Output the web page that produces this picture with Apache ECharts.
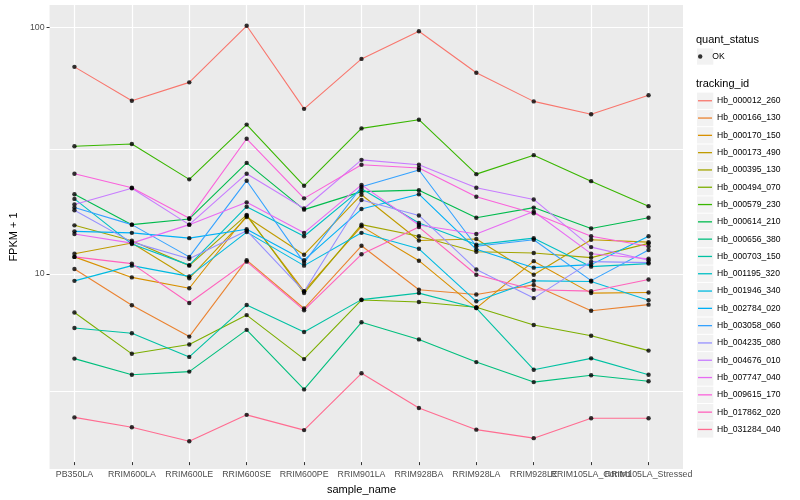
<!DOCTYPE html>
<html><head><meta charset="utf-8">
<script src="https://cdn.jsdelivr.net/npm/echarts@6/dist/echarts.min.js"></script>
<style>html,body{margin:0;padding:0;background:#fff}#c{width:800px;height:500px}</style>
</head><body><div id="c"></div>
<script>
// ---------- data ----------
const categories = ['PB350LA','RRIM600LA','RRIM600LE','RRIM600SE','RRIM600PE','RRIM901LA','RRIM928BA','RRIM928LA','RRIM928LE','RRIM105LA_Control','RRIM105LA_Stressed'];
const trackingIds = ['Hb_000012_260','Hb_000166_130','Hb_000170_150','Hb_000173_490','Hb_000395_130','Hb_000494_070','Hb_000579_230','Hb_000614_210','Hb_000656_380','Hb_000703_150','Hb_001195_320','Hb_001946_340','Hb_002784_020','Hb_003058_060','Hb_004235_080','Hb_004676_010','Hb_007747_040','Hb_009615_170','Hb_017862_020','Hb_031284_040'];
const hb_000012_260 = [68.7, 49.8, 59.3, 101.5, 46.1, 74.1, 96.3, 65.0, 49.5, 43.8, 52.5];
const hb_000166_130 = [10.07, 7.14, 5.30, 10.95, 6.92, 12.56, 8.27, 7.91, 8.66, 6.77, 7.18];
const hb_000170_150 = [11.3, 9.3, 8.39, 16.7, 8.16, 15.1, 10.9, 6.95, 10.85, 8.01, 8.06];
const hb_000173_490 = [11.65, 12.9, 9.22, 16.5, 11.54, 20.4, 13.2, 13.4, 9.54, 13.3, 13.0];
const hb_000395_130 = [15.25, 13.18, 10.4, 16.85, 8.01, 15.35, 13.75, 11.87, 11.73, 11.22, 12.85];
const hb_000494_070 = [6.66, 4.50, 4.92, 6.50, 4.28, 7.50, 7.36, 7.00, 5.92, 5.34, 4.64];
const hb_000579_230 = [32.3, 33.0, 23.6, 39.7, 22.2, 38.3, 41.6, 24.8, 29.7, 23.2, 18.3];
const hb_000614_210 = [20.5, 15.35, 16.2, 27.6, 17.7, 21.0, 21.3, 16.4, 18.05, 14.8, 16.4];
const hb_000656_380 = [4.30, 3.69, 3.80, 5.65, 3.21, 6.07, 5.16, 4.16, 3.44, 3.67, 3.47];
const hb_000703_150 = [5.75, 5.47, 4.37, 7.16, 5.54, 7.53, 8.01, 6.95, 3.87, 4.31, 3.69];
const hb_001195_320 = [19.6, 12.76, 10.45, 18.2, 13.75, 21.6, 15.6, 12.7, 13.5, 10.3, 10.6];
const hb_001946_340 = [9.0, 10.4, 9.39, 14.3, 10.4, 14.2, 12.2, 7.41, 9.0, 8.94, 7.48];
const hb_002784_020 = [14.4, 14.2, 13.5, 14.7, 10.95, 17.8, 20.5, 12.14, 10.2, 10.5, 13.75];
const hb_003058_060 = [18.05, 15.35, 11.3, 23.3, 10.7, 22.0, 25.8, 12.5, 13.3, 9.02, 12.06];
const hb_004235_080 = [17.6, 13.0, 11.1, 14.5, 8.14, 19.4, 16.75, 10.03, 7.64, 10.8, 10.7];
const hb_004676_010 = [18.6, 21.7, 15.35, 24.9, 17.9, 28.4, 27.1, 21.8, 19.5, 12.4, 10.95];
const hb_007747_040 = [14.05, 12.88, 15.35, 18.97, 14.2, 22.4, 15.3, 14.05, 17.4, 11.65, 11.1];
const hb_009615_170 = [24.9, 21.8, 16.3, 34.7, 19.7, 27.1, 26.3, 20.0, 17.1, 13.75, 12.5];
const hb_017862_020 = [11.3, 10.6, 7.29, 10.8, 6.81, 11.58, 15.0, 9.54, 8.27, 8.16, 9.11];
const hb_031284_040 = [2.46, 2.24, 1.96, 2.52, 2.18, 3.74, 2.69, 2.19, 2.02, 2.44, 2.44];
const yTickValues = [10, 100];
const yTickLabels = ['10', '100'];
const quantStatus = ['OK'];

// ---------- style ----------
const palette = ['#F8766D','#EA8331','#D89000','#C09B00','#A3A500','#7CAE00','#39B600','#00BB4E','#00BF7D','#00C1A3','#00BFC4','#00BAE0','#00B0F6','#35A2FF','#9590FF','#C77CFF','#E76BF3','#FA62DB','#FF62BC','#FF6C91'];
const seriesValues = [hb_000012_260, hb_000166_130, hb_000170_150, hb_000173_490, hb_000395_130, hb_000494_070, hb_000579_230, hb_000614_210, hb_000656_380, hb_000703_150, hb_001195_320, hb_001946_340, hb_002784_020, hb_003058_060, hb_004235_080, hb_004676_010, hb_007747_040, hb_009615_170, hb_017862_020, hb_031284_040];

const W = 800, H = 500;
const PANEL = {left: 40, right: 117, top: 5, bottom: 31};
const EXPAND = 0.6; // ggplot discrete expansion
const unit = (W - PANEL.left - PANEL.right) / (categories.length - 1 + 2 * EXPAND);
const innerLeft = PANEL.left + EXPAND * unit;
const innerRight = PANEL.right + EXPAND * unit;

// y range: ggplot 5% expansion in log space
const allVals = seriesValues.flat();
const lo = Math.log10(Math.min(...allVals)), hi = Math.log10(Math.max(...allVals));
const span = hi - lo;
const yMinLog = lo - 0.05 * span, yMaxLog = hi + 0.05 * span;
const yMin = Math.pow(10, yMinLog), yMax = Math.pow(10, yMaxLog);
// ggplot minor breaks: geometric midpoints between major breaks (and one decade beyond)
const minorBreaks = [];
[yTickValues[0] / 10, ...yTickValues].forEach(t => { const m = t * Math.sqrt(10); if (m > yMin && m < yMax) minorBreaks.push(m); });

const FONT = "'Liberation Sans', Arial, sans-serif";

const lineSeries = trackingIds.map((name, i) => ({
  name: name, type: 'line', xAxisIndex: 1, yAxisIndex: 1,
  data: seriesValues[i], showSymbol: false, symbol: 'none',
  itemStyle: {color: palette[i]},
  lineStyle: {color: palette[i], width: 1.1},
  emphasis: {disabled: true}, silent: true, z: 3
}));
const pointData = [];
seriesValues.forEach(vals => vals.forEach((v, i) => pointData.push([categories[i], v])));
const pointSeries = {
  name: quantStatus[0], type: 'scatter', xAxisIndex: 1, yAxisIndex: 1,
  data: pointData, symbol: 'circle', symbolSize: 4.4,
  itemStyle: {color: '#000'}, emphasis: {disabled: true}, silent: true, z: 4
};

// legend key geometry
const KEY = 17.3, KEYX = 697;
const okTop = 47.9, idTop = 92.1;
const keyRects = [];
keyRects.push({type: 'rect', shape: {x: KEYX, y: okTop + 0.5, width: KEY - 1, height: KEY - 1}, style: {fill: '#F2F2F2'}, silent: true});
trackingIds.forEach((n, i) => keyRects.push({type: 'rect', shape: {x: KEYX, y: idTop + i * KEY + 0.5, width: KEY - 1, height: KEY - 1}, style: {fill: '#F2F2F2'}, silent: true}));

const option = {
  animation: false,
  backgroundColor: '#fff',
  textStyle: {fontFamily: FONT},
  grid: [
    {left: PANEL.left, right: PANEL.right, top: PANEL.top, bottom: PANEL.bottom, show: true, backgroundColor: '#EBEBEB', borderWidth: 0, z: 0},
    {left: innerLeft, right: innerRight, top: PANEL.top, bottom: PANEL.bottom, show: false}
  ],
  xAxis: [
    {gridIndex: 0, type: 'value', min: 0, max: 1, show: false},
    {gridIndex: 1, type: 'category', data: categories, boundaryGap: false, z: 2,
     axisLine: {show: false},
     axisTick: {show: true, interval: 0, length: 3, lineStyle: {color: '#333333', width: 1}},
     axisLabel: {interval: 0, hideOverlap: false, color: '#4D4D4D', fontSize: 8.8, margin: 8, fontFamily: FONT},
     splitLine: {show: true, interval: 0, lineStyle: {color: '#FFFFFF', width: 1.2}},
     name: 'sample_name', nameLocation: 'middle', nameGap: 14,
     nameTextStyle: {color: '#000', fontSize: 11, fontFamily: FONT}}
  ],
  yAxis: [
    {gridIndex: 0, type: 'log', logBase: 10, min: yMin, max: yMax,
     axisLine: {show: false},
     axisTick: {show: true, length: 3, lineStyle: {color: '#333333', width: 1}, customValues: yTickValues},
     axisLabel: {customValues: yTickValues, color: '#4D4D4D', fontSize: 8.8, margin: 5, fontFamily: FONT,
       formatter: v => { const k = yTickValues.findIndex(t => Math.abs(t - v) / t < 1e-6); return k >= 0 ? yTickLabels[k] : ''; }},
     splitLine: {show: true, lineStyle: {color: '#FFFFFF', width: 1.2}},
     name: 'FPKM + 1', nameLocation: 'middle', nameGap: 24, nameRotate: 90,
     nameTextStyle: {color: '#000', fontSize: 11, fontFamily: FONT}, z: 2},
    {gridIndex: 1, type: 'log', logBase: 10, min: yMin, max: yMax, show: false}
  ],
  legend: [
    {data: [{name: quantStatus[0], icon: 'circle'}], orient: 'vertical', left: KEYX + 1, top: okTop, padding: 0,
     itemWidth: 14, itemHeight: 4.4, itemGap: 0, selectedMode: false,
     textStyle: {fontSize: 8.6, color: '#000', lineHeight: KEY, fontFamily: FONT}},
    {data: trackingIds.map(n => ({name: n, icon: 'rect'})), orient: 'vertical', left: KEYX + 1, top: idTop, padding: 0,
     itemWidth: 14, itemHeight: 1.3, itemGap: 0, selectedMode: false,
     textStyle: {fontSize: 8.6, color: '#000', lineHeight: KEY, fontFamily: FONT}}
  ],
  graphic: [
    ...keyRects,
    {type: 'text', left: 696, top: 34, style: {text: 'quant_status', fill: '#000', font: '11px ' + FONT}, silent: true},
    {type: 'text', left: 696, top: 78, style: {text: 'tracking_id', fill: '#000', font: '11px ' + FONT}, silent: true}
  ],
  series: [...lineSeries, pointSeries]
};

const chart = echarts.init(document.getElementById('c'), null, {renderer: 'canvas', width: W, height: H});
chart.setOption(option);

// minor horizontal gridlines (ggplot minor breaks), placed through the chart's own log scale, under the data
const gridRect = chart.getModel().getComponent('grid', 0).coordinateSystem.getRect();
const minorLines = minorBreaks.map(v => {
  const yRaw = chart.convertToPixel({gridIndex: 1}, [categories[0], v])[1];
  const y = Math.round(yRaw) + 0.5;
  return {type: 'line', z: 2, zlevel: 0, silent: true,
    shape: {x1: gridRect.x, y1: y, x2: gridRect.x + gridRect.width, y2: y},
    style: {stroke: '#FFFFFF', lineWidth: 1}};
});
chart.setOption({graphic: [...option.graphic, ...minorLines]});
</script>
</body></html>
